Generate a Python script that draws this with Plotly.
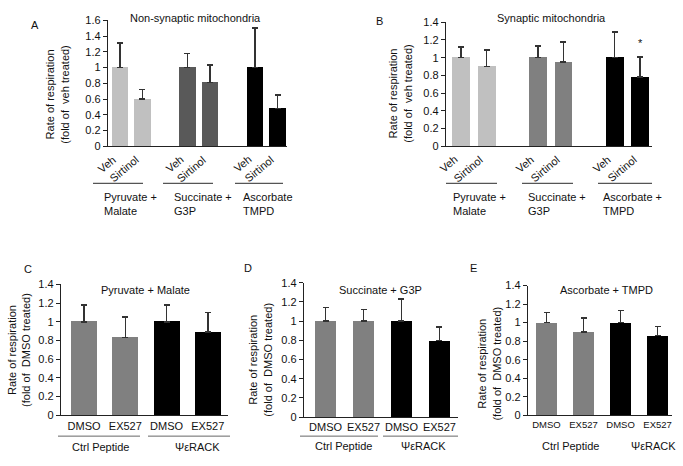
import plotly.graph_objects as go

W, H = 683, 466
FONT = "Arial, Liberation Sans, sans-serif"

# ---------------- data ----------------
ab_ticks = ["Veh", "Sirtinol", "Veh", "Sirtinol", "Veh", "Sirtinol"]
ab_pos = [0, 1, 3, 4, 6, 7]

a_values = [1.0, 0.60, 1.0, 0.81, 1.0, 0.48]
a_upper = [1.31, 0.72, 1.18, 1.03, 1.50, 0.65]
a_colors = ["#c0c0c0", "#c0c0c0", "#595959", "#595959", "#000000", "#000000"]
a_groups = ["Pyruvate +<br>Malate", "Succinate +<br>G3P", "Ascorbate<br>TMPD"]

b_values = [1.0, 0.90, 1.0, 0.95, 1.0, 0.78]
b_upper = [1.12, 1.09, 1.13, 1.18, 1.29, 1.01]
b_colors = ["#c0c0c0", "#c0c0c0", "#808080", "#808080", "#000000", "#000000"]
b_groups = ["Pyruvate +<br>Malate", "Succinate +<br>G3P", "Ascorbate +<br>TMPD"]

cde_ticks = ["DMSO", "EX527", "DMSO", "EX527"]
cde_pos = [0, 1, 2, 3]
cde_groups = ["Ctrl Peptide", "ΨεRACK"]
cde_colors = ["#808080", "#808080", "#000000", "#000000"]

c_values = [1.0, 0.83, 1.0, 0.89]
c_upper = [1.18, 1.05, 1.18, 1.10]
d_values = [1.0, 1.0, 1.0, 0.80]
d_upper = [1.14, 1.12, 1.23, 0.94]
e_values = [1.0, 0.90, 1.0, 0.86]
e_upper = [1.11, 1.05, 1.13, 0.96]

# ---------------- layout helpers ----------------
def px_x(x):
    return x / W

def px_y(y):
    return 1 - y / H

fig = go.Figure()
annotations = []
shapes = []

panels = [
    dict(n="", values=a_values, upper=a_upper, colors=a_colors, pos=ab_pos, ticks=ab_ticks,
         ymax=1.6, xpx=(108, 287), ypx=(144, 14.7), xr=(-0.53, 7.42), bw=0.72, rot=True, tfs=11),
    dict(n="2", values=b_values, upper=b_upper, colors=b_colors, pos=ab_pos, ticks=ab_ticks,
         ymax=1.4, xpx=(446, 652), ypx=(144, 16.7), xr=(-0.59, 7.46), bw=0.70, rot=True, tfs=11),
    dict(n="3", values=c_values, upper=c_upper, colors=cde_colors, pos=cde_pos, ticks=cde_ticks,
         ymax=1.4, xpx=(61, 228), ypx=(420, 285.7), xr=(-0.56, 3.49), bw=0.63, rot=False, tfs=11),
    dict(n="4", values=d_values, upper=d_upper, colors=cde_colors, pos=cde_pos, ticks=cde_ticks,
         ymax=1.4, xpx=(304, 458), ypx=(422, 284), xr=(-0.57, 3.49), bw=0.56, rot=False, tfs=11),
    dict(n="5", values=e_values, upper=e_upper, colors=cde_colors, pos=cde_pos, ticks=cde_ticks,
         ymax=1.4, xpx=(528, 672), ypx=(420, 287), xr=(-0.5, 3.39), bw=0.57, rot=False, tfs=9.5),
]

for p in panels:
    xa = "x" + p["n"]
    ya = "y" + p["n"]
    errs = [u - v for u, v in zip(p["upper"], p["values"])]
    fig.add_trace(go.Bar(
        x=p["pos"], y=p["values"], width=p["bw"],
        marker=dict(color=p["colors"], line=dict(width=0)),
        error_y=dict(type="data", symmetric=False, array=errs, arrayminus=[0] * len(errs),
                     color="#333333", thickness=1.6, width=3),
        xaxis=xa, yaxis=ya, showlegend=False, hoverinfo="skip",
    ))
    xkey = "xaxis" + p["n"]
    ykey = "yaxis" + p["n"]
    fig.layout[xkey] = dict(
        domain=[px_x(p["xpx"][0]), px_x(p["xpx"][1])], anchor=ya,
        range=list(p["xr"]), tickmode="array", tickvals=p["pos"], ticktext=p["ticks"],
        showticklabels=not p["rot"], ticks="", showline=True, linecolor="#222", linewidth=1.3,
        showgrid=False, zeroline=False, tickfont=dict(family=FONT, size=p["tfs"], color="#111"),
        fixedrange=True,
    )
    fig.layout[ykey] = dict(
        domain=[px_y(p["ypx"][0]), px_y(p["ypx"][1])], anchor=xa,
        range=[0, p["ymax"]], dtick=0.2, tick0=0, ticks="outside", ticklen=4, tickwidth=1,
        tickcolor="#222", showline=True, linecolor="#222", linewidth=1.3,
        showgrid=False, zeroline=False, tickfont=dict(family=FONT, size=11, color="#111"),
        fixedrange=True,
    )
    if p["rot"]:
        for pos, t in zip(p["pos"], p["ticks"]):
            annotations.append(dict(x=pos, y=px_y(148), xref=xa, yref="paper", text=t,
                                    showarrow=False, textangle=-40, xshift=1,
                                    font=dict(family=FONT, size=11, color="#111"),
                                    xanchor="right", yanchor="top"))

def txt(x, y, text, size=11, xanchor="center", yanchor="middle", align="center", angle=0,
        xref="paper"):
    annotations.append(dict(x=x, y=y, xref=xref, yref="paper", text=text, showarrow=False,
                            font=dict(family=FONT, size=size, color="#111"),
                            xanchor=xanchor, yanchor=yanchor, align=align, textangle=angle))

# panel letters
for letter, (x, y) in zip("ABCDE", [(35, 20), (379, 15), (28, 270), (248, 269), (473, 269)]):
    txt(px_x(x), px_y(y), letter, size=11)

# titles
txt(px_x(195), px_y(12), "Non-synaptic mitochondria")
txt(px_x(551), px_y(12), "Synaptic mitochondria")
txt(px_x(145), px_y(291), "Pyruvate + Malate")
txt(px_x(380), px_y(291), "Succinate + G3P")
txt(px_x(606), px_y(291), "Ascorbate + TMPD")

# y-axis titles
txt(px_x(57), px_y(91), "Rate of respiration<br>(fold of  veh treated)", angle=-90)
txt(px_x(400), px_y(90), "Rate of respiration<br>(fold of  veh treated)", angle=-90)
txt(px_x(19), px_y(353), "Rate of respiration<br>(fold of  DMSO treated)", angle=-90)
txt(px_x(260), px_y(363), "Rate of respiration<br>(fold of  DMSO treated)", angle=-90)
txt(px_x(489), px_y(367), "Rate of respiration<br>(fold of  DMSO treated)", angle=-90)

# group lines and labels for A and B
for n, groups, lines, labels_x in [
    ("", a_groups, [(93, 143), (163, 213), (235, 283)], [102, 172, 241]),
    ("2", b_groups, [(446, 497), (522, 573), (598, 652)], [451, 526, 601]),
]:
    for (x0, x1), g, lx in zip(lines, groups, labels_x):
        shapes.append(dict(type="line", xref="paper", yref="paper",
                           x0=px_x(x0), x1=px_x(x1), y0=px_y(182), y1=px_y(182),
                           line=dict(color="#555", width=1.2)))
        txt(px_x(lx), px_y(188), g, xanchor="left", yanchor="top", align="left")

# group lines and labels for C, D, E
for lines, label_xy in [
    ([(58, 140), (148, 230)], [(100, 453), (197, 453)]),
    ([(300, 378), (383, 458)], [(343, 452), (423, 452)]),
    (None, [(570, 452), (653, 452)]),
]:
    if lines:
        for x0, x1 in lines:
            shapes.append(dict(type="line", xref="paper", yref="paper",
                               x0=px_x(x0), x1=px_x(x1), y0=px_y(441.5), y1=px_y(441.5),
                               line=dict(color="#666", width=1)))
    for (lx, ly), g in zip(label_xy, cde_groups):
        txt(px_x(lx), px_y(ly), g)

# significance asterisk on B, Ascorbate + TMPD Sirtinol
annotations.append(dict(x=ab_pos[5], y=b_upper[5] + 0.07, xref="x2", yref="y2", text="*",
                        showarrow=False, font=dict(family=FONT, size=11, color="#111"),
                        xanchor="center", yanchor="bottom"))

fig.update_layout(
    width=W, height=H, margin=dict(l=0, r=0, t=0, b=0),
    paper_bgcolor="white", plot_bgcolor="white",
    annotations=annotations, shapes=shapes, bargap=0,
    font=dict(family=FONT, size=11, color="#111"),
)

fig.write_html("out.html", config={"displayModeBar": False},
               post_script="document.body.style.margin='0';")
